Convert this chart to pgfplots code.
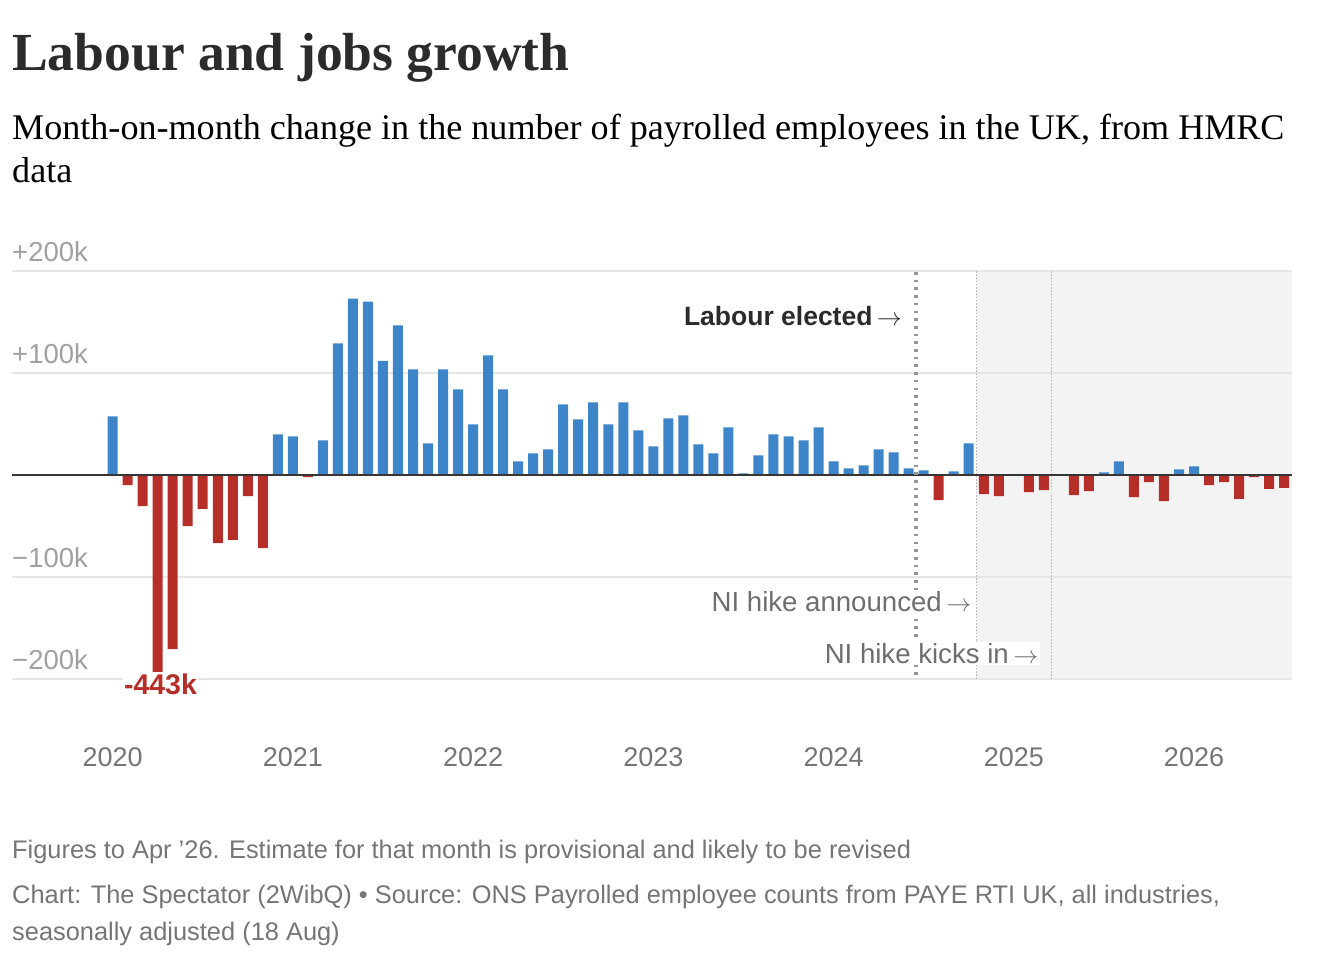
\documentclass[border=0pt]{standalone}
\usepackage{fontspec}
\setmainfont{Liberation Sans}
\newfontfamily\serif{Liberation Serif}
\usepackage{pgfplots}
\pgfplotsset{compat=1.18}
\definecolor{barblue}{HTML}{3D85C8}
\definecolor{barred}{HTML}{B52F28}
\definecolor{gridc}{HTML}{E6E6E6}
\definecolor{shadec}{HTML}{F3F3F3}
\definecolor{ytc}{HTML}{A0A0A0}
\definecolor{xtc}{HTML}{757575}
\definecolor{notec}{HTML}{6E6E6E}
\definecolor{darkc}{HTML}{2B2B2B}
\definecolor{dotc}{HTML}{959595}
\newcommand\arr{\,$\rightarrow$}
\begin{document}
\begin{tikzpicture}
\path[use as bounding box] (0pt,0pt) rectangle (1318pt,-972pt);
% title and subtitle
\node[anchor=base west,inner sep=0pt,text=darkc] at (12pt,-70pt) {\serif\bfseries\fontsize{53.6}{60}\selectfont Labour and jobs growth};
\node[anchor=base west,inner sep=0pt,text=black] at (12pt,-139pt) {\serif\fontsize{36.1}{42}\selectfont Month-on-month change in the number of payrolled employees in the UK, from HMRC};
\node[anchor=base west,inner sep=0pt,text=black] at (12pt,-182pt) {\serif\fontsize{36.1}{42}\selectfont data};
\begin{axis}[
  at={(12pt,-679pt)}, anchor=south west,
  scale only axis, width=1280pt, height=408pt,
  xmin=-6.7, xmax=78.52, ymin=-200, ymax=200,
  clip mode=individual,
  axis line style={draw=none}, tick style={draw=none},
  xtick={0,12,24,36,48,60,72},
  xticklabels={2020,2021,2022,2023,2024,2025,2026},
  xticklabel style={anchor=base,inner sep=0pt,yshift=-87pt,text=xtc,font=\fontsize{27}{32}\selectfont},
  ytick={-200,-100,100,200},
  yticklabels={−200k,−100k,+100k,+200k},
  yticklabel style={anchor=base west,inner sep=0pt,yshift=9.5pt,text=ytc,font=\fontsize{27.5}{32}\selectfont},
]
\fill[shadec] (axis cs:57.5,-200) rectangle (axis cs:78.52,200);
\draw[gridc,line width=1.6pt] (axis cs:-6.7,200) -- (axis cs:78.52,200);
\draw[gridc,line width=1.6pt] (axis cs:-6.7,100) -- (axis cs:78.52,100);
\draw[gridc,line width=1.6pt] (axis cs:-6.7,-100) -- (axis cs:78.52,-100);
\draw[gridc,line width=1.6pt] (axis cs:-6.7,-200) -- (axis cs:78.52,-200);
\addplot[ybar,bar width=10pt,bar shift=0pt,fill=barblue,draw=none] coordinates {
(0,57.5) (11,39.9) (12,37.9) (14,34) (15,129) (16,173) (17,170) (18,112) (19,146.7)
(20,103.6) (21,31) (22,103.6) (23,84) (24,49.7) (25,117.3) (26,84) (27,13.4) (28,21.2)
(29,25.2) (30,69.3) (31,54.6) (32,71.2) (33,49.7) (34,71.2) (35,43.8) (36,28.1) (37,55.6)
(38,58.5) (39,30) (40,21.2) (41,46.7) (42,1.6) (43,19.3) (44,39.9) (45,37.9) (46,34)
(47,46.7) (48,13.4) (49,6.5) (50,9.5) (51,25.2) (52,22.2) (53,6.5) (54,4.6) (56,3.6)
(57,31) (66,2.6) (67,13.4) (71,5.6) (72,8.5)
};
\addplot[ybar,bar width=10pt,bar shift=0pt,fill=barred,draw=none] coordinates {
(1,-9.8) (2,-30.4) (3,-443) (4,-170.6) (5,-50) (6,-33.3) (7,-66.7) (8,-63.7) (9,-20.6)
(10,-71.6) (13,-2) (55,-24.6) (58,-18.8) (59,-20.8) (61,-16.8) (62,-14.8) (64,-19.8)
(65,-15.8) (68,-21.8) (69,-7) (70,-25.6) (73,-9.8) (74,-6.9) (75,-23.5) (76,-2)
(77,-13.7) (78,-12.7)
};
\draw[darkc!95,line width=2pt] (axis cs:-6.7,0) -- (axis cs:78.52,0);
\draw[dotc,line width=3.4pt,dash pattern=on 2.6pt off 5.1pt] (axis cs:53.5,199) -- (axis cs:53.5,-198);
\draw[black!28,line width=1.1pt,dash pattern=on 1.6pt off 1.6pt] (axis cs:57.5,200) -- (axis cs:57.5,-200);
\draw[black!28,line width=1.1pt,dash pattern=on 1.6pt off 1.6pt] (axis cs:62.5,200) -- (axis cs:62.5,-200);
\end{axis}
% annotations
\node[anchor=base east,inner sep=0pt,text=darkc] at (902pt,-325pt) {\bfseries\fontsize{26.5}{30}\selectfont Labour elected\arr};
\node[anchor=base east,inner sep=1.5pt,fill=white,text=notec] at (973pt,-611pt) {\fontsize{27.6}{30}\selectfont NI hike announced\arr};
\node[anchor=base east,inner sep=1.5pt,fill=white,text=notec] at (1040pt,-663pt) {\fontsize{27.6}{30}\selectfont NI hike kicks in\arr};
\node[anchor=base,inner xsep=1pt,inner ysep=1.5pt,fill=white,text=barred] at (160.5pt,-694pt) {\bfseries\fontsize{28.5}{30}\selectfont -443k};
% footer
\node[anchor=base west,inner sep=0pt,text=xtc] at (12pt,-858pt) {\fontsize{25.4}{30}\selectfont Figures to Apr ’26. Estimate for that month is provisional and likely to be revised};
\node[anchor=base west,inner sep=0pt,text=xtc] at (12pt,-903pt) {\fontsize{25.4}{30}\selectfont Chart: The Spectator (2WibQ) • Source: ONS Payrolled employee counts from PAYE RTI UK, all industries,};
\node[anchor=base west,inner sep=0pt,text=xtc] at (12pt,-940pt) {\fontsize{25.4}{30}\selectfont seasonally adjusted (18 Aug)};
\end{tikzpicture}
\end{document}
